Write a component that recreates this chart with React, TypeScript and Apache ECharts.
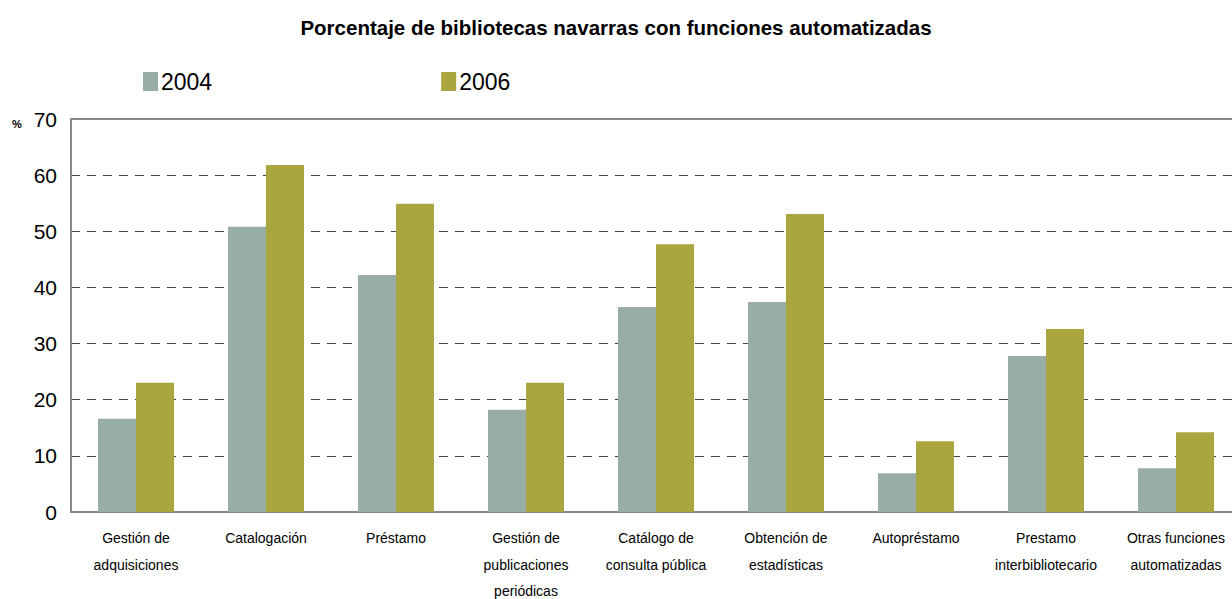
import React, { useEffect, useRef } from "react";
import * as echarts from "echarts";

const categories = [
  "Gestión de\nadquisiciones",
  "Catalogación",
  "Préstamo",
  "Gestión de\npublicaciones\nperiódicas",
  "Catálogo de\nconsulta pública",
  "Obtención de\nestadísticas",
  "Autopréstamo",
  "Prestamo\ninterbibliotecario",
  "Otras funciones\nautomatizadas",
];
const values2004 = [16.6, 50.8, 42.2, 18.2, 36.5, 37.4, 6.9, 27.8, 7.8];
const values2006 = [23.0, 61.8, 54.9, 23.0, 47.7, 53.1, 12.6, 32.6, 14.2];
const seriesNames = ["2004", "2006"];
const title = "Porcentaje de bibliotecas navarras con funciones automatizadas";

const FONT = "'Liberation Sans Narrow', 'Liberation Sans', Arial, sans-serif";

export default function App() {
  const ref = useRef<HTMLDivElement>(null);
  useEffect(() => {
    if (!ref.current) return;
    const chart = echarts.init(ref.current, null, { renderer: "svg" });
    chart.setOption({
      animation: false,
      textStyle: { fontFamily: FONT },
      title: {
        text: title,
        left: 611,
        textAlign: "center",
        top: 12,
        textStyle: { fontSize: 20.5, fontWeight: "bold", color: "#000", fontFamily: FONT },
      },
      legend: {
        data: seriesNames,
        left: 138,
        top: 65,
        itemWidth: 15,
        itemHeight: 19,
        itemGap: 229,
        icon: "rect",
        textStyle: { fontSize: 23, color: "#000", fontFamily: FONT, padding: [0, 0, 0, -2] },
      },
      graphic: [
        {
          type: "text",
          left: 12,
          top: 118,
          style: { text: "%", fontSize: 11, fontWeight: "bold", fill: "#000", fontFamily: FONT },
        },
      ],
      grid: {
        left: 71,
        top: 119,
        width: 1170,
        height: 393,
        containLabel: false,
        outerBoundsMode: "none",
      },
      xAxis: [
        {
          type: "category",
          data: categories,
          axisLine: { show: true, lineStyle: { color: "#888", width: 2 } },
          axisTick: { show: false },
          axisLabel: {
            interval: 0,
            fontSize: 14,
            lineHeight: 26.5,
            margin: 13,
            color: "#000",
            fontFamily: FONT,
          },
        },
        {
          type: "category",
          data: categories,
          position: "top",
          axisLine: { show: true, lineStyle: { color: "#888", width: 2 } },
          axisTick: { show: false },
          axisLabel: { show: false },
        },
      ],
      yAxis: {
        type: "value",
        min: 0,
        max: 70,
        interval: 10,
        axisLine: { show: true, lineStyle: { color: "#888", width: 2 } },
        axisTick: { show: false },
        axisLabel: { fontSize: 21, color: "#000", margin: 14, fontFamily: FONT },
        splitLine: {
          show: true,
          lineStyle: { color: "#444", width: 1, type: [9, 7] },
        },
      },
      series: [
        {
          name: seriesNames[0],
          type: "bar",
          data: values2004,
          barWidth: 38,
          barGap: "0%",
          itemStyle: { color: "#98ADA7" },
        },
        {
          name: seriesNames[1],
          type: "bar",
          data: values2006,
          barWidth: 38,
          barGap: "0%",
          itemStyle: { color: "#A9A53F" },
        },
      ],
    });
    return () => chart.dispose();
  }, []);
  return (
    <div
      style={{
        position: "absolute",
        left: 0,
        top: 0,
        width: 1232,
        height: 599,
        overflow: "hidden",
        background: "#fff",
      }}
    >
      <div ref={ref} style={{ width: 1232, height: 599 }} />
    </div>
  );
}
